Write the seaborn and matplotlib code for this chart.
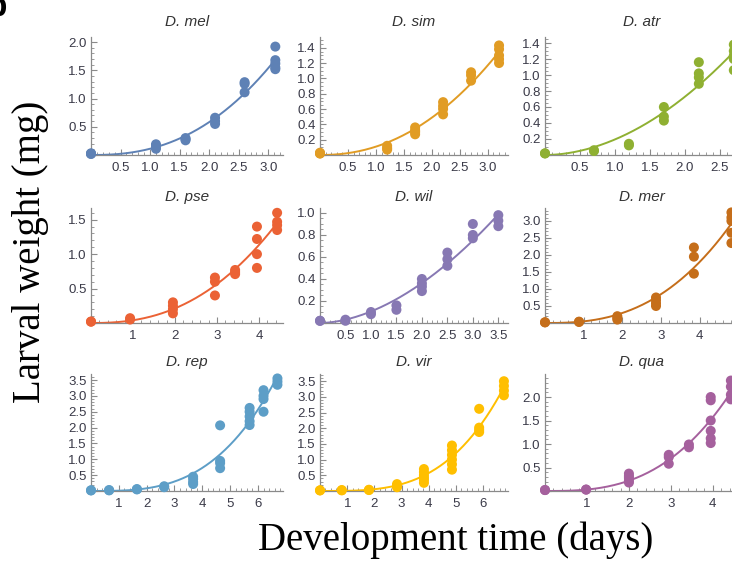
import numpy as np
import pandas as pd
import matplotlib
matplotlib.use("Agg")
import matplotlib.pyplot as plt
import seaborn as sns
from matplotlib.ticker import MultipleLocator, AutoMinorLocator, FuncFormatter

species = ["D. mel", "D. sim", "D. atr", "D. pse", "D. wil", "D. mer", "D. rep", "D. vir", "D. qua"]
colors = ["#5E81B5", "#E19C24", "#8FB032", "#EB6235", "#8778B3",
          "#C56E1A", "#5D9EC7", "#FFBF00", "#A5609D"]

# sampling times (days) and larval weights (mg) of the larvae weighed at each time
mel_days = [0.0, 1.1, 1.6, 2.1, 2.6, 3.12]
mel_mg = [[0.02, 0.03, 0.02], [0.19, 0.15, 0.11], [0.30, 0.28, 0.26],
          [0.66, 0.60, 0.55], [1.29, 1.26, 1.11], [1.92, 1.68, 1.62, 1.55, 1.52]]

sim_days = [0.0, 1.2, 1.7, 2.2, 2.7, 3.2]
sim_mg = [[0.02, 0.02, 0.03], [0.12, 0.09, 0.07], [0.36, 0.32, 0.30, 0.27],
          [0.69, 0.64, 0.60, 0.53], [1.08, 1.04, 0.97], [1.43, 1.38, 1.30, 1.25, 1.20]]

atr_days = [0.0, 0.7, 1.2, 1.7, 2.2, 2.7]
atr_mg = [[0.02, 0.02], [0.06, 0.05], [0.14, 0.12], [0.60, 0.48, 0.43],
          [1.16, 1.02, 0.97, 0.89], [1.38, 1.30, 1.24, 1.20, 1.06]]

pse_days = [0.0, 0.93, 1.95, 2.95, 3.43, 3.95, 4.43]
pse_mg = [[0.02, 0.02], [0.07, 0.05], [0.30, 0.25, 0.20, 0.14], [0.66, 0.60, 0.40],
          [0.77, 0.74, 0.71], [1.40, 1.22, 1.00, 0.80], [1.60, 1.47, 1.42, 1.35]]

wil_days = [0.0, 0.5, 1.0, 1.5, 2.0, 2.5, 3.0, 3.5]
wil_mg = [[0.02, 0.02], [0.03, 0.02], [0.10, 0.08], [0.16, 0.12],
          [0.40, 0.36, 0.33, 0.29], [0.64, 0.58, 0.52], [0.90, 0.80, 0.77], [0.98, 0.93, 0.88]]

mer_days = [0.0, 0.88, 1.87, 2.87, 3.85, 4.82]
mer_mg = [[0.02, 0.02], [0.04, 0.03], [0.20, 0.15, 0.10], [0.75, 0.67, 0.58, 0.50],
          [2.22, 1.95, 1.45], [3.25, 3.10, 3.00, 2.65, 2.35]]

rep_days = [0.0, 0.65, 1.65, 2.63, 3.67, 4.64, 5.7, 6.2, 6.7]
rep_mg = [[0.02, 0.02], [0.03, 0.02], [0.06, 0.05], [0.15, 0.12], [0.45, 0.38, 0.28, 0.22],
          [2.07, 0.95, 0.88, 0.72], [2.62, 2.50, 2.35, 2.20, 2.08],
          [3.18, 3.00, 2.90, 2.50], [3.55, 3.45, 3.35]]

vir_days = [0.0, 0.8, 1.8, 2.83, 3.82, 4.85, 5.85, 6.76]
vir_mg = [[0.02, 0.02], [0.02, 0.03], [0.03, 0.04], [0.22, 0.16, 0.12],
          [0.70, 0.60, 0.50, 0.42, 0.35, 0.26], [1.45, 1.30, 1.15, 1.00, 0.85, 0.68],
          [2.62, 2.02, 1.95, 1.88], [3.50, 3.35, 3.20, 3.05]]

qua_days = [0.0, 0.98, 2.0, 2.95, 3.43, 3.95, 4.43]
qua_mg = [[0.02, 0.02], [0.03, 0.03], [0.37, 0.32, 0.28, 0.22, 0.18], [0.77, 0.72, 0.58],
          [0.99, 0.93], [2.00, 1.93, 1.50, 1.28, 1.12, 1.02], [2.35, 2.22, 2.05, 1.95]]

all_days = [mel_days, sim_days, atr_days, pse_days, wil_days, mer_days, rep_days, vir_days, qua_days]
all_mg = [mel_mg, sim_mg, atr_mg, pse_mg, wil_mg, mer_mg, rep_mg, vir_mg, qua_mg]

rows = []
for name, days, groups in zip(species, all_days, all_mg):
    for d, ws in zip(days, groups):
        for w in ws:
            rows.append((name, d, w))
df = pd.DataFrame(rows, columns=["species", "days", "mg"])

# axis ranges and tick spacing of each panel
x_max = [3.25, 3.36, 2.76, 4.57, 3.69, 4.99, 6.9, 6.91, 4.6]
y_max = [2.09, 1.54, 1.475, 1.67, 1.045, 3.38, 3.69, 3.73, 2.49]
x_step = [0.5, 0.5, 0.5, 1, 0.5, 1, 1, 1, 1]
y_step = [0.5, 0.2, 0.2, 0.5, 0.2, 0.5, 0.5, 0.5, 0.5]


def power_fit(t, w):
    """Least-squares fit of w = a * t**b."""
    t = np.asarray(t, float)
    w = np.asarray(w, float)
    best = None
    for b in np.linspace(1.0, 6.0, 1001):
        tb = t ** b
        a = (tb @ w) / (tb @ tb)
        sse = ((a * tb - w) ** 2).sum()
        if best is None or sse < best[0]:
            best = (sse, a, b)
    return best[1], best[2]


sns.set_theme(style="white")
plt.rcParams["font.family"] = ["Liberation Sans", "DejaVu Sans"]

W, H = 732, 562
fig = plt.figure(figsize=(W / 100, H / 100), dpi=100)

col_px = [(91, 283), (320, 508), (545, 738)]
row_px = [(37, 155), (208, 323), (374, 491)]
title_y = [22, 197, 362]

axis_gray = "#8a8a8a"
label_col = "#3a3a48"

for i, name in enumerate(species):
    r, c = divmod(i, 3)
    l, rr = col_px[c]
    t, b = row_px[r]
    ax = fig.add_axes([l / W, 1 - b / H, (rr - l) / W, (b - t) / H])
    sub = df[df.species == name]
    a, p = power_fit(sub.days, sub.mg)
    grid = np.linspace(0, sub.days.max(), 200)
    sns.lineplot(x=grid, y=a * grid ** p, ax=ax, color=colors[i], lw=1.4,
                 errorbar=None, clip_on=False, zorder=2)
    sns.scatterplot(data=sub, x="days", y="mg", ax=ax, color=colors[i], s=52,
                    edgecolor="none", linewidth=0, clip_on=False, zorder=3)
    ax.set_xlim(0, x_max[i])
    ax.set_ylim(0, y_max[i])
    ax.set_xlabel("")
    ax.set_ylabel("")
    for side in ("top", "right"):
        ax.spines[side].set_visible(False)
    for side in ("left", "bottom"):
        ax.spines[side].set_color(axis_gray)
        ax.spines[side].set_linewidth(0.9)
    ax.xaxis.set_major_locator(MultipleLocator(x_step[i]))
    ax.yaxis.set_major_locator(MultipleLocator(y_step[i]))
    ax.xaxis.set_minor_locator(AutoMinorLocator())
    ax.yaxis.set_minor_locator(AutoMinorLocator())
    xf = "{:.1f}" if x_step[i] < 1 else "{:.0f}"
    ax.xaxis.set_major_formatter(FuncFormatter(lambda v, pos, f=xf: "" if abs(v) < 1e-9 else f.format(v)))
    ax.yaxis.set_major_formatter(FuncFormatter(lambda v, pos: "" if abs(v) < 1e-9 else "{:.1f}".format(v)))
    ax.tick_params(which="both", direction="in", color=axis_gray, labelcolor=label_col,
                   labelsize=9.5, left=True, bottom=True)
    ax.tick_params(which="major", length=4, width=0.8)
    ax.tick_params(which="minor", length=2, width=0.6)
    ax.tick_params(axis="x", which="major", pad=5)
    ax.tick_params(axis="y", which="major", pad=3)
    ax.set_facecolor("none")
    fig.text((l + rr) / 2 / W, 1 - title_y[r] / H, name, ha="center", va="center",
             fontsize=11, style="italic", color="#333333")

fig.text(456 / W, 1 - 540 / H, "Development time (days)", ha="center", va="center",
         fontsize=28, family="Liberation Serif", color="black")
fig.text(31 / W, 1 - 252 / H, "Larval weight (mg)", ha="center", va="center",
         rotation=90, fontsize=28, family="Liberation Serif", color="black")
fig.text(7 / W, 1 - 16 / H, "b", ha="right", va="baseline", fontsize=24,
         weight="bold", color="black")

fig.savefig("out.png", dpi=100)
